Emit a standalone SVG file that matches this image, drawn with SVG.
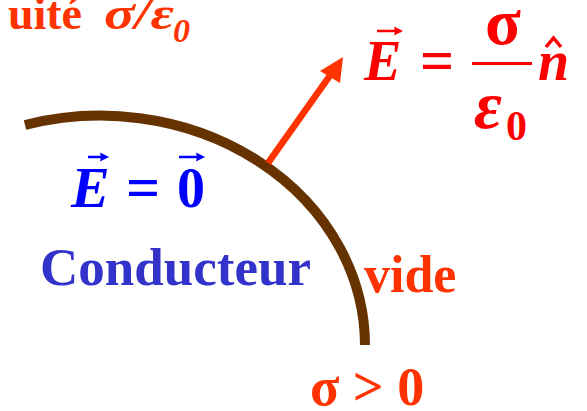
<svg xmlns="http://www.w3.org/2000/svg" width="587" height="411" viewBox="0 0 587 411">
<style>
text{font-family:"Liberation Serif","Times New Roman",serif;font-weight:bold}
.it{font-style:italic}
.or{fill:#ff3300}
.rd{fill:#ff0000}
.bl{fill:#0000ff}
.cd{fill:#3333cc}
</style>
<g id="surface">
<path d="M25,125 A265,230 0 0 1 365,345" fill="none" stroke="#663300" stroke-width="10"/>
</g>
<g id="connectors">
<path d="M268,163 L336,67" stroke="#ff3300" stroke-width="6.5" fill="none"/>
<path d="M343,57 L320,71 L340,83 Z" fill="#ff3300"/>
</g>
<g id="title">
<text class="or" x="82" y="29" font-size="46" text-anchor="end">uité</text>
<text class="or it" x="104" y="29" font-size="46" textLength="70" lengthAdjust="spacingAndGlyphs">σ/ε</text>
<text class="or it" x="173" y="42" font-size="34">0</text>
</g>
<g id="field-out">
<text class="rd it" x="364" y="80" font-size="56">E</text>
<path d="M377,31 L401,31" stroke="#ff0000" stroke-width="2.5"/>
<path d="M403,31 L394,26.5 L395,31 L394,35.5 Z" fill="#ff0000"/>
<text class="rd" x="420" y="80" font-size="60">=</text>
<text class="rd" x="503" y="44" font-size="66" text-anchor="middle">σ</text>
<rect x="472" y="62" width="60" height="3" fill="#ff0000"/>
<text class="rd it" x="474" y="128" font-size="68">ε</text>
<text class="rd" x="506" y="140" font-size="42">0</text>
<text class="rd it" x="538" y="80" font-size="56">n</text>
<path d="M546,47 L553.5,38 L561,47" stroke="#ff0000" stroke-width="3.5" fill="none"/>
</g>
<g id="field-in">
<text class="bl it" x="71" y="207" font-size="58">E</text>
<path d="M88,157 L106,157" stroke="#0000ff" stroke-width="2.5"/>
<path d="M109,157 L100,152.5 L101,157 L100,161.5 Z" fill="#0000ff"/>
<text class="bl" x="126" y="207" font-size="60">=</text>
<text class="bl" x="177" y="207" font-size="56">0</text>
<path d="M179,157 L202,157" stroke="#0000ff" stroke-width="2.5"/>
<path d="M205,157 L196,152.5 L197,157 L196,161.5 Z" fill="#0000ff"/>
</g>
<g id="conducteur">
<text class="cd" x="40" y="285" font-size="53">Conducteur</text>
</g>
<g id="vide">
<text class="or" x="364" y="292" font-size="52">vide</text>
</g>
<g id="sigma">
<text class="or" x="310" y="405" font-size="54">σ &gt; 0</text>
</g>
</svg>
